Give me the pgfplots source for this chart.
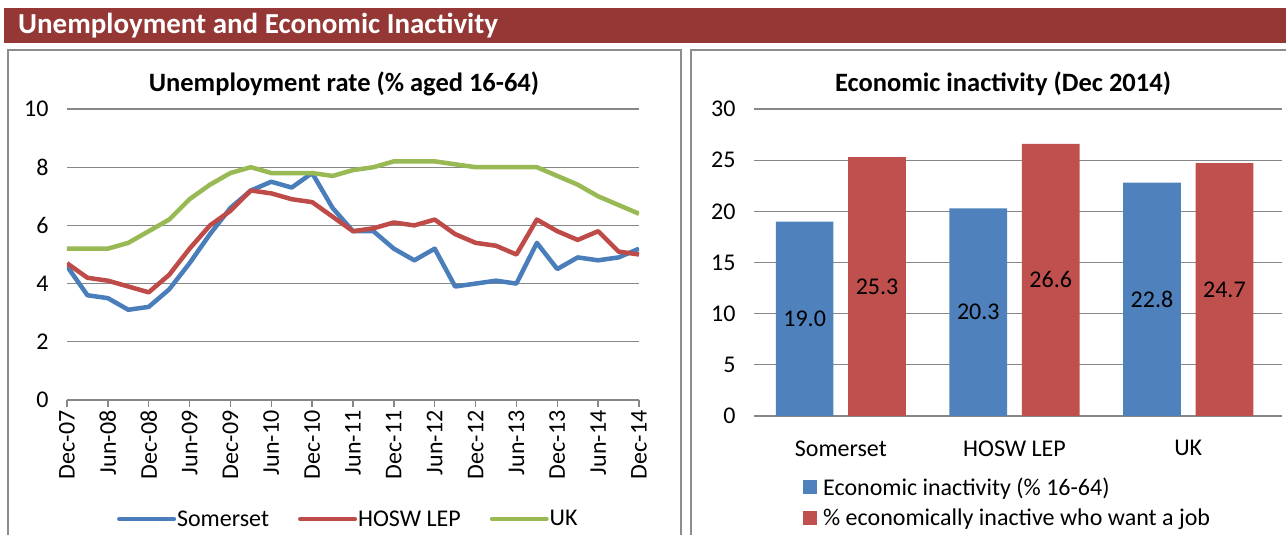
\documentclass[border=0pt]{standalone}
\usepackage{pgfplots}
\pgfplotsset{compat=1.18}
\usepackage{fontspec}
\setmainfont{Carlito}
\definecolor{hdr}{HTML}{953735}
\definecolor{lblue}{HTML}{4A7EBB}
\definecolor{lred}{HTML}{BE4B48}
\definecolor{lgreen}{HTML}{98B954}
\definecolor{bblue}{HTML}{4F81BD}
\definecolor{bred}{HTML}{C0504D}
\definecolor{gridc}{HTML}{878787}
\definecolor{boxc}{HTML}{8C8C8C}
\newcommand\tickfont{\fontsize{24}{28}\selectfont}
\newcommand\titlefont{\fontsize{26.5}{30}\selectfont\bfseries}
\begin{document}
\begin{tikzpicture}
\path[use as bounding box] (0pt,0pt) rectangle (1286pt,535pt);
\fill[hdr] (4pt,527pt) rectangle (1290pt,492pt);
\node[anchor=west, text=white, font=\fontsize{29}{32}\selectfont\bfseries, inner sep=0pt] at (18pt,509pt) {Unemployment and Economic Inactivity};
\draw[boxc, line width=1.5pt] (8pt,-10pt) -- (8pt,485pt) -- (681pt,485pt) -- (681pt,-10pt);
\draw[boxc, line width=1.5pt] (691pt,-10pt) -- (691pt,485pt) -- (1295pt,485pt);
\node[font=\titlefont] at (344pt,451pt) {Unemployment rate (\% aged 16-64)};
\node[font=\titlefont] at (1003pt,451pt) {Economic inactivity (Dec 2014)};

\begin{axis}[at={(67pt,135pt)}, anchor=south west, scale only axis, width=572pt, height=291pt,
  xmin=0, xmax=28, ymin=0, ymax=10, ytick={0,2,...,10},
  axis lines*=left, y axis line style={draw=none}, x axis line style={-, gridc, line width=1.5pt},
  ymajorgrids, grid style={gridc, line width=1.3pt},
  ytick style={draw=none}, xtick align=outside, xtick style={gridc, line width=1.3pt}, major tick length=7pt,
  xtick={0,2,...,28},
  xticklabels={Dec-07,Jun-08,Dec-08,Jun-09,Dec-09,Jun-10,Dec-10,Jun-11,Dec-11,Jun-12,Dec-12,Jun-13,Dec-13,Jun-14,Dec-14},
  xticklabel style={rotate=90, anchor=east, font=\tickfont},
  yticklabel style={font=\tickfont, xshift=-15pt},
  /pgf/number format/assume math mode=true,
  legend columns=3,
  legend style={at={(0.491,-0.409)}, anchor=center, draw=none, fill=none, font=\tickfont,
    nodes={inner sep=1pt}, /tikz/every even column/.append style={column sep=28pt}},
  legend cell align=left,
  legend image code/.code={\draw[#1, line width=4pt, line cap=round] (0pt,0pt) -- (55pt,0pt);},
  ]
\addplot[lblue, line width=4.5pt, line join=round, mark=none] coordinates {
(0,4.6) (1,3.6) (2,3.5) (3,3.1) (4,3.2) (5,3.8) (6,4.7) (7,5.7) (8,6.6) (9,7.2)
(10,7.5) (11,7.3) (12,7.8) (13,6.6) (14,5.8) (15,5.8) (16,5.2) (17,4.8) (18,5.2) (19,3.9)
(20,4.0) (21,4.1) (22,4.0) (23,5.4) (24,4.5) (25,4.9) (26,4.8) (27,4.9) (28,5.2)};
\addlegendentry{Somerset}
\addplot[lred, line width=4.5pt, line join=round, mark=none] coordinates {
(0,4.7) (1,4.2) (2,4.1) (3,3.9) (4,3.7) (5,4.3) (6,5.2) (7,6.0) (8,6.5) (9,7.2)
(10,7.1) (11,6.9) (12,6.8) (13,6.3) (14,5.8) (15,5.9) (16,6.1) (17,6.0) (18,6.2) (19,5.7)
(20,5.4) (21,5.3) (22,5.0) (23,6.2) (24,5.8) (25,5.5) (26,5.8) (27,5.1) (28,5.0)};
\addlegendentry{HOSW LEP}
\addplot[lgreen, line width=4.5pt, line join=round, mark=none] coordinates {
(0,5.2) (1,5.2) (2,5.2) (3,5.4) (4,5.8) (5,6.2) (6,6.9) (7,7.4) (8,7.8) (9,8.0)
(10,7.8) (11,7.8) (12,7.8) (13,7.7) (14,7.9) (15,8.0) (16,8.2) (17,8.2) (18,8.2) (19,8.1)
(20,8.0) (21,8.0) (22,8.0) (23,8.0) (24,7.7) (25,7.4) (26,7.0) (27,6.7) (28,6.4)};
\addlegendentry{UK}
\end{axis}

\begin{axis}[at={(754pt,119pt)}, anchor=south west, scale only axis, width=528pt, height=307pt,
  xmin=-0.5, xmax=2.54, ymin=0, ymax=30, ytick={0,5,...,30},
  xtick={0,1,2}, xticklabels={Somerset,HOSW LEP,UK},
  axis lines*=left, y axis line style={draw=none}, x axis line style={-, gridc, line width=2pt},
  ymajorgrids, grid style={gridc, line width=1.3pt},
  xtick style={draw=none}, ytick style={draw=none},
  xticklabel style={font=\tickfont, yshift=-21pt},
  yticklabel style={font=\tickfont, xshift=-15pt},
  /pgf/number format/assume math mode=true,
  legend style={at={(0.087,-0.19)}, anchor=north west, draw=none, fill=none, font=\tickfont,
    nodes={inner sep=1pt}, row sep=10pt},
  legend cell align=left,
  legend image code/.code={\fill[#1] (0pt,-7pt) rectangle (14pt,7pt); \path (19pt,0pt);},
  ]
\addplot[ybar, fill=bblue, draw=none, bar width=0.332, bar shift=-0.2085,
  nodes near coords={\pgfmathprintnumber[fixed,fixed zerofill,precision=1]{\pgfplotspointmeta}},
  visualization depends on={\thisrow{y} \as \yval},
  every node near coord/.append style={font=\tickfont, text=black, anchor=center, xshift=-36.2pt, yshift={-5.1167*\yval}}]
  table[x=x, y=y, row sep=\\] {x y\\ 0 19.0\\ 1 20.3\\ 2 22.8\\};
\addlegendentry{Economic inactivity (\% 16-64)}
\addplot[ybar, fill=bred, draw=none, bar width=0.332, bar shift=0.2085,
  nodes near coords={\pgfmathprintnumber[fixed,fixed zerofill,precision=1]{\pgfplotspointmeta}},
  visualization depends on={\thisrow{y} \as \yval},
  every node near coord/.append style={font=\tickfont, text=black, anchor=center, xshift=36.2pt, yshift={-5.1167*\yval}}]
  table[x=x, y=y, row sep=\\] {x y\\ 0 25.3\\ 1 26.6\\ 2 24.7\\};
\addlegendentry{\% economically inactive who want a job}
\end{axis}
\end{tikzpicture}
\end{document}
